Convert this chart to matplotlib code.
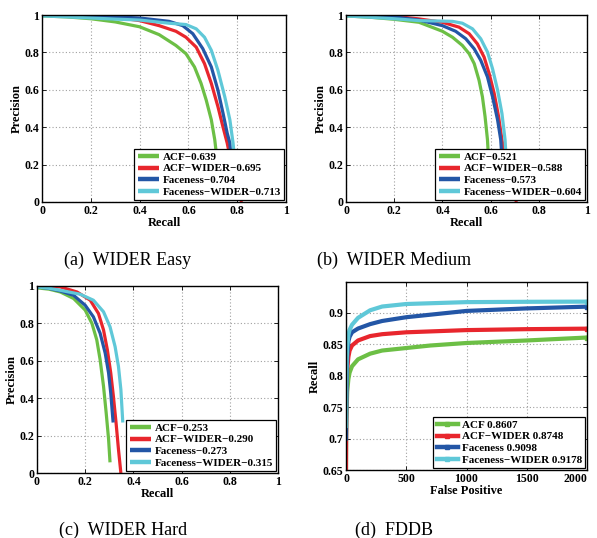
import matplotlib
matplotlib.use("Agg")
import matplotlib.pyplot as plt
from matplotlib.ticker import FixedLocator

plt.rcParams['font.family'] = ['Liberation Serif', 'DejaVu Serif']

colors = ['#6cbf45', '#e8262d', '#2356a6', '#5fc8d8']

# ---------------- Panel (a) WIDER Easy ----------------
easy_labels = ['ACF\u22120.639', 'ACF\u2212WIDER\u22120.695', 'Faceness\u22120.704', 'Faceness\u2212WIDER\u22120.713']
easy_acf_r = [0, 0.1, 0.2, 0.3, 0.4, 0.48, 0.549, 0.59, 0.625, 0.652, 0.673, 0.694, 0.708, 0.718]
easy_acf_p = [0.995, 0.99, 0.98, 0.963, 0.937, 0.895, 0.837, 0.793, 0.722, 0.634, 0.545, 0.439, 0.333, 0.22]
easy_acfw_r = [0, 0.1, 0.2, 0.3, 0.4, 0.48, 0.549, 0.59, 0.632, 0.666, 0.694, 0.721, 0.742, 0.759, 0.785, 0.818]
easy_acfw_p = [1.0, 0.999, 0.996, 0.988, 0.97, 0.943, 0.913, 0.881, 0.828, 0.74, 0.634, 0.51, 0.40, 0.315, 0.15, 0.0]
easy_fac_r = [0, 0.1, 0.2, 0.3, 0.4, 0.521, 0.577, 0.618, 0.659, 0.694, 0.721, 0.742, 0.759, 0.77, 0.775]
easy_fac_p = [1.0, 0.998, 0.995, 0.99, 0.984, 0.966, 0.943, 0.90, 0.82, 0.722, 0.598, 0.474, 0.368, 0.315, 0.22]
easy_facw_r = [0, 0.1, 0.2, 0.3, 0.4, 0.521, 0.59, 0.632, 0.666, 0.694, 0.721, 0.749, 0.77, 0.783, 0.79]
easy_facw_p = [0.995, 0.99, 0.984, 0.978, 0.973, 0.956, 0.949, 0.926, 0.881, 0.811, 0.704, 0.563, 0.439, 0.315, 0.22]

# ---------------- Panel (b) WIDER Medium ----------------
med_labels = ['ACF\u22120.521', 'ACF\u2212WIDER\u22120.588', 'Faceness\u22120.573', 'Faceness\u2212WIDER\u22120.604']
med_acf_r = [0, 0.1, 0.2, 0.303, 0.4, 0.442, 0.483, 0.511, 0.532, 0.552, 0.566, 0.577, 0.587, 0.592]
med_acf_p = [0.995, 0.988, 0.977, 0.961, 0.913, 0.881, 0.837, 0.793, 0.74, 0.651, 0.563, 0.457, 0.333, 0.22]
med_acfw_r = [0, 0.1, 0.2, 0.303, 0.4, 0.469, 0.511, 0.545, 0.573, 0.594, 0.615, 0.633, 0.647, 0.67, 0.707]
med_acfw_p = [1.0, 0.998, 0.993, 0.979, 0.961, 0.935, 0.90, 0.846, 0.775, 0.687, 0.58, 0.457, 0.333, 0.17, 0.0]
med_fac_r = [0, 0.1, 0.2, 0.303, 0.4, 0.455, 0.497, 0.532, 0.559, 0.587, 0.608, 0.629, 0.642, 0.648]
med_fac_p = [1.0, 0.997, 0.99, 0.973, 0.943, 0.913, 0.873, 0.819, 0.758, 0.669, 0.563, 0.439, 0.333, 0.22]
med_facw_r = [0, 0.1, 0.2, 0.303, 0.442, 0.483, 0.525, 0.559, 0.587, 0.608, 0.629, 0.647, 0.66, 0.665]
med_facw_p = [0.995, 0.988, 0.98, 0.97, 0.966, 0.956, 0.926, 0.873, 0.802, 0.713, 0.598, 0.474, 0.333, 0.22]

# ---------------- Panel (c) WIDER Hard ----------------
hard_labels = ['ACF\u22120.253', 'ACF\u2212WIDER\u22120.290', 'Faceness\u22120.273', 'Faceness\u2212WIDER\u22120.315']
hard_acf_r = [0, 0.05, 0.097, 0.152, 0.2, 0.228, 0.248, 0.262, 0.276, 0.287, 0.297, 0.303]
hard_acf_p = [0.99, 0.983, 0.968, 0.933, 0.871, 0.80, 0.712, 0.605, 0.464, 0.322, 0.181, 0.057]
hard_acfw_r = [0, 0.05, 0.097, 0.166, 0.221, 0.255, 0.276, 0.292, 0.306, 0.317, 0.328, 0.338, 0.348]
hard_acfw_p = [1.0, 0.999, 0.995, 0.968, 0.924, 0.853, 0.765, 0.658, 0.535, 0.41, 0.269, 0.127, 0.0]
hard_fac_r = [0, 0.05, 0.097, 0.152, 0.2, 0.234, 0.262, 0.283, 0.297, 0.306, 0.314, 0.316]
hard_fac_p = [0.995, 0.987, 0.973, 0.95, 0.897, 0.835, 0.747, 0.641, 0.535, 0.428, 0.30, 0.27]
hard_facw_r = [0, 0.05, 0.097, 0.179, 0.234, 0.276, 0.303, 0.324, 0.338, 0.348, 0.356]
hard_facw_p = [0.995, 0.988, 0.977, 0.956, 0.924, 0.862, 0.782, 0.676, 0.57, 0.446, 0.27]

# ---------------- Panel (d) FDDB ----------------
fddb_labels = ['ACF 0.8607', 'ACF\u2212WIDER 0.8748', 'Faceness 0.9098', 'Faceness\u2212WIDER 0.9178']
fddb_acf_fp = [0, 1, 3, 10, 20, 30, 50, 100, 200, 300, 500, 700, 1000, 1500, 2000]
fddb_acf_r = [0.65, 0.70, 0.73, 0.775, 0.795, 0.805, 0.815, 0.826, 0.835, 0.84, 0.844, 0.848, 0.852, 0.856, 0.8607]
fddb_acfw_fp = [0, 1, 3, 10, 20, 30, 50, 100, 200, 300, 500, 1000, 1500, 2000]
fddb_acfw_r = [0.65, 0.70, 0.77, 0.81, 0.83, 0.84, 0.848, 0.856, 0.863, 0.866, 0.869, 0.8725, 0.874, 0.8748]
fddb_fac_fp = [0, 2, 5, 10, 20, 30, 50, 100, 200, 300, 500, 1000, 1500, 2000]
fddb_fac_r = [0.70, 0.74, 0.79, 0.83, 0.855, 0.862, 0.869, 0.875, 0.882, 0.887, 0.893, 0.903, 0.907, 0.9098]
fddb_facw_fp = [0, 2, 5, 10, 20, 30, 50, 100, 200, 300, 500, 1000, 1500, 2000]
fddb_facw_r = [0.72, 0.78, 0.82, 0.845, 0.865, 0.873, 0.881, 0.892, 0.904, 0.91, 0.914, 0.917, 0.9175, 0.9178]

pr_ticks = [0, 0.2, 0.4, 0.6, 0.8, 1]
pr_ticklabels = ['0', '0.2', '0.4', '0.6', '0.8', '1']
fddb_xticks = [0, 500, 1000, 1500, 2000]
fddb_yticks = [0.65, 0.7, 0.75, 0.8, 0.85, 0.9]
fddb_yticklabels = ['0.65', '0.7', '0.75', '0.8', '0.85', '0.9']

captions = ['(a)  WIDER Easy', '(b)  WIDER Medium', '(c)  WIDER Hard', '(d)  FDDB']

W, H = 597, 538
fig = plt.figure(figsize=(W / 100, H / 100), dpi=100)


def ax_at(left, top, right, bottom):
    return fig.add_axes([left / W, 1 - bottom / H, (right - left) / W, (bottom - top) / H])


def style(ax):
    ax.grid(True, linestyle=(0, (1, 2)), color='#a0a0a0', linewidth=0.8)
    ax.tick_params(direction='in', top=True, right=True, length=3, width=0.6,
                   labelsize=8.6, pad=2)
    for lab in ax.get_xticklabels() + ax.get_yticklabels():
        lab.set_fontweight('bold')
    for s in ax.spines.values():
        s.set_linewidth(1.0)


def legend(ax):
    leg = ax.legend(loc='lower right', prop={'weight': 'bold', 'size': 8},
                    frameon=True, fancybox=False, edgecolor='black', framealpha=1,
                    borderaxespad=0.15, handlelength=1.9, handletextpad=0.35,
                    labelspacing=0.18, borderpad=0.3)
    leg.get_frame().set_linewidth(0.9)
    for l in leg.get_lines():
        l.set_linewidth(3.2)


def pr_panel(box, curves, labels):
    ax = ax_at(*box)
    for (r, p), c, lab in zip(curves, colors, labels):
        ax.plot(r, p, color=c, linewidth=2.3, label=lab, solid_capstyle='butt',
                solid_joinstyle='round')
    ax.set_xlim(0, 1)
    ax.set_ylim(0, 1)
    ax.xaxis.set_major_locator(FixedLocator(pr_ticks))
    ax.yaxis.set_major_locator(FixedLocator(pr_ticks))
    ax.set_xticklabels(pr_ticklabels)
    ax.set_yticklabels(pr_ticklabels)
    style(ax)
    ax.set_xlabel('Recall', fontsize=9, fontweight='bold', labelpad=0)
    ax.set_ylabel('Precision', fontsize=9, fontweight='bold', labelpad=1)
    legend(ax)
    return ax


pr_panel((42, 15, 286, 202),
         [(easy_acf_r, easy_acf_p), (easy_acfw_r, easy_acfw_p),
          (easy_fac_r, easy_fac_p), (easy_facw_r, easy_facw_p)], easy_labels)
pr_panel((346, 15, 587, 202),
         [(med_acf_r, med_acf_p), (med_acfw_r, med_acfw_p),
          (med_fac_r, med_fac_p), (med_facw_r, med_facw_p)], med_labels)
pr_panel((37, 286, 278, 473),
         [(hard_acf_r, hard_acf_p), (hard_acfw_r, hard_acfw_p),
          (hard_fac_r, hard_fac_p), (hard_facw_r, hard_facw_p)], hard_labels)

# FDDB
ax = ax_at(346, 282, 587, 470)
for (x, y), c, lab in zip([(fddb_acf_fp, fddb_acf_r), (fddb_acfw_fp, fddb_acfw_r),
                           (fddb_fac_fp, fddb_fac_r), (fddb_facw_fp, fddb_facw_r)],
                          colors, fddb_labels):
    ax.plot(x, y, color=c, linewidth=3.0, label=lab, marker='s', markersize=2.2,
            markevery=[len(x) - 1], solid_joinstyle='round')
ax.set_xlim(0, 2000)
ax.set_ylim(0.65, 0.949)
ax.xaxis.set_major_locator(FixedLocator(fddb_xticks))
ax.yaxis.set_major_locator(FixedLocator(fddb_yticks))
ax.set_yticklabels(fddb_yticklabels)
style(ax)
for lab in ax.get_xticklabels():
    if lab.get_text() == '2000':
        lab.set_horizontalalignment('right')
        lab.set_x(2000)
ax.set_xlabel('False Positive', fontsize=9, fontweight='bold', labelpad=0)
ax.set_ylabel('Recall', fontsize=9, fontweight='bold', labelpad=1)
legend(ax)

# captions
fig.text(128 / W, 1 - 265 / H, captions[0], ha='center', va='baseline', fontsize=13)
fig.text(394 / W, 1 - 265 / H, captions[1], ha='center', va='baseline', fontsize=13)
fig.text(123 / W, 1 - 535 / H, captions[2], ha='center', va='baseline', fontsize=13)
fig.text(394 / W, 1 - 535 / H, captions[3], ha='center', va='baseline', fontsize=13)

fig.savefig('out.png', dpi=100)
